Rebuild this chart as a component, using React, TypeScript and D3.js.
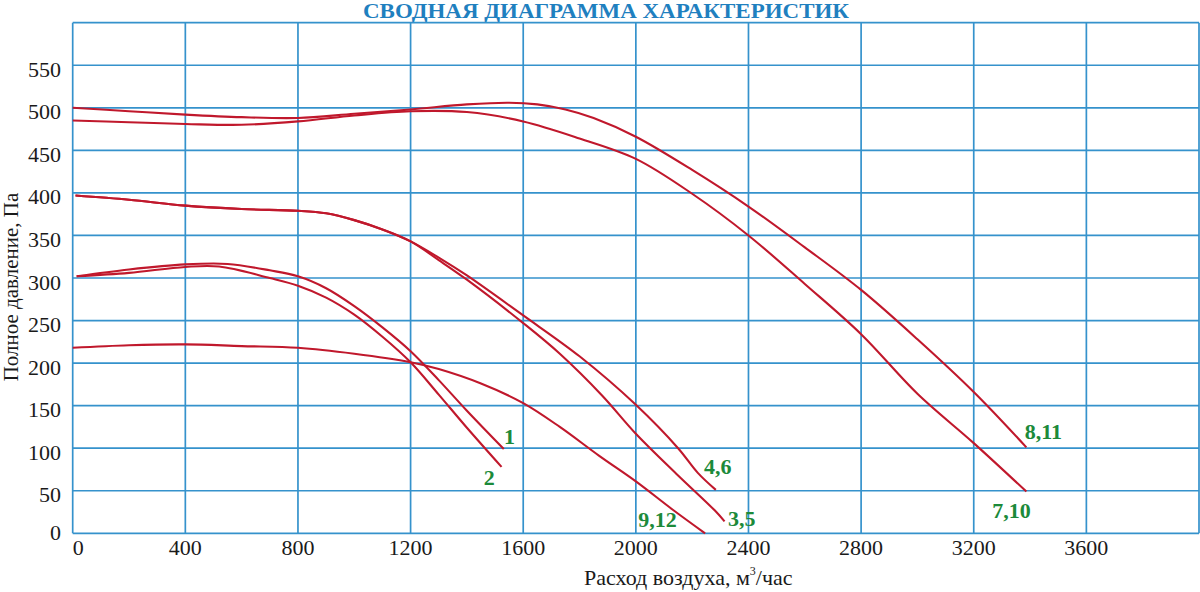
import React from "react";
import * as d3 from "d3";

// ---- data (flow m3/h, total pressure Pa) ----
const xTicks = [0, 400, 800, 1200, 1600, 2000, 2400, 2800, 3200, 3600, 4000];
const yTicks = [0, 50, 100, 150, 200, 250, 300, 350, 400, 450, 500, 550, 600];
const xTickLabels = ["0", "400", "800", "1200", "1600", "2000", "2400", "2800", "3200", "3600"];
const yTickLabels = ["0", "50", "100", "150", "200", "250", "300", "350", "400", "450", "500", "550"];

const curve811: [number, number][] = [
  [0, 500], [200, 496], [400, 492], [600, 489], [800, 488], [1000, 493], [1200, 498],
  [1400, 504], [1550, 506], [1650, 504], [1750, 498], [1850, 488], [2000, 466],
  [2200, 427], [2400, 384], [2600, 336], [2800, 286], [3000, 228], [3200, 166], [3387, 101],
];
const curve710: [number, number][] = [
  [0, 485], [200, 483], [400, 481], [600, 480], [800, 484], [1000, 491], [1200, 496],
  [1400, 495], [1600, 484], [1800, 464], [2000, 440], [2200, 399], [2400, 350],
  [2600, 293], [2800, 234], [3000, 164], [3200, 106], [3387, 49],
];
const curve46: [number, number][] = [
  [10, 397], [200, 392], [400, 385], [600, 381], [800, 379], [900, 376], [1000, 368],
  [1100, 357], [1200, 343], [1300, 324], [1400, 303], [1600, 256], [1800, 208],
  [2000, 151], [2150, 100], [2220, 71], [2284, 51],
];
const curve35: [number, number][] = [
  [10, 397], [200, 392], [400, 385], [600, 381], [800, 379], [900, 376], [1000, 368],
  [1100, 357], [1200, 343], [1300, 321], [1400, 298], [1600, 247], [1730, 211],
  [1880, 162], [2000, 117], [2150, 68], [2280, 27], [2315, 14],
];
const curve1: [number, number][] = [
  [14, 302], [200, 310], [400, 316], [550, 316.5], [700, 309], [800, 302],
  [900, 288], [1000, 267], [1100, 242], [1200, 214], [1300, 180], [1400, 144], [1531, 99],
];
const curve2: [number, number][] = [
  [14, 302], [200, 306], [400, 313], [520, 313.5], [700, 300], [800, 291],
  [900, 277], [1000, 257], [1100, 231], [1200, 201], [1300, 163], [1400, 124], [1523, 78],
];
const curve912: [number, number][] = [
  [0, 218], [200, 221], [400, 222], [600, 220], [800, 218], [1000, 211], [1200, 201],
  [1300, 193], [1450, 176], [1600, 153], [1730, 125], [1870, 91], [2000, 61],
  [2130, 28], [2246, 0],
];

const seriesList = [curve811, curve710, curve46, curve35, curve1, curve2, curve912];

// curve labels: text and anchor (centre) in data units
const labelTexts = ["1", "2", "4,6", "3,5", "9,12", "8,11", "7,10"];
const labelX = [1551, 1479, 2291, 2376, 2077, 3447, 3334];
const labelY = [114, 66, 78, 17, 16, 120, 27];

const titleText = "СВОДНАЯ ДИАГРАММА ХАРАКТЕРИСТИК";
const xTitle = "Расход воздуха, м";
const yTitle = "Полное давление, Па";

const GRID = "#3592cc";
const RED = "#c0182c";
const GREEN = "#1c8a3a";
const BLUE = "#1f80bf";
const FONT = "'Liberation Serif', 'Times New Roman', serif";

export default function App() {
  const W = 1200;
  const H = 592;
  const x = d3.scaleLinear().domain([0, 4000]).range([72.7, 1199]);
  const y = d3.scaleLinear().domain([0, 600]).range([533.3, 22.7]);
  const line = d3
    .line<[number, number]>()
    .x((d) => x(d[0]))
    .y((d) => y(d[1]))
    .curve(d3.curveCatmullRom.alpha(0.5));

  return (
    <svg
      width={W}
      height={H}
      viewBox={`0 0 ${W} ${H}`}
      style={{ position: "absolute", left: 0, top: 0, background: "#fff" }}
      fontFamily={FONT}
    >
      <rect x={0} y={0} width={W} height={H} fill="#fff" />
      <text
        x={606}
        y={18}
        textAnchor="middle"
        fontWeight="bold"
        fontSize={20}
        fill={BLUE}
        textLength={486}
        lengthAdjust="spacingAndGlyphs"
      >
        {titleText}
      </text>

      {/* grid */}
      {xTicks.map((t) => (
        <line key={"vx" + t} x1={x(t)} x2={x(t)} y1={y(600)} y2={y(0)} stroke={GRID} strokeWidth={1.7} />
      ))}
      {yTicks.map((t) => (
        <line key={"hy" + t} x1={x(0)} x2={x(4000)} y1={y(t)} y2={y(t)} stroke={GRID} strokeWidth={1.7} />
      ))}

      {/* tick labels */}
      {xTickLabels.map((s, i) => (
        <text
          key={"xl" + s}
          x={i === 0 ? x(0) : x(xTicks[i])}
          y={555}
          textAnchor={i === 0 ? "start" : "middle"}
          fontSize={22}
          fill="#1a1a1a"
        >
          {s}
        </text>
      ))}
      {yTickLabels.map((s, i) => (
        <text
          key={"yl" + s}
          x={61}
          y={y(yTicks[i]) + (i === 0 ? -1 : 4)}
          textAnchor="end"
          dominantBaseline="central"
          fontSize={22}
          fill="#1a1a1a"
        >
          {s}
        </text>
      ))}

      {/* axis titles */}
      <text x={584} y={585} fontSize={22} fill="#1a1a1a">
        {xTitle}
        <tspan fontSize={12} dy={-10}>3</tspan>
        <tspan dy={10}>/час</tspan>
      </text>
      <text
        transform="translate(18,287) rotate(-90)"
        textAnchor="middle"
        fontSize={21}
        fill="#1a1a1a"
      >
        {yTitle}
      </text>

      {/* curves */}
      {seriesList.map((s, i) => (
        <path key={"c" + i} d={line(s) ?? ""} fill="none" stroke={RED} strokeWidth={2.1} />
      ))}

      {/* curve labels */}
      {labelTexts.map((s, i) => (
        <text
          key={"lb" + i}
          x={x(labelX[i])}
          y={y(labelY[i])}
          textAnchor="middle"
          dominantBaseline="central"
          fontWeight="bold"
          fontSize={22}
          fill={GREEN}
        >
          {s}
        </text>
      ))}
    </svg>
  );
}
